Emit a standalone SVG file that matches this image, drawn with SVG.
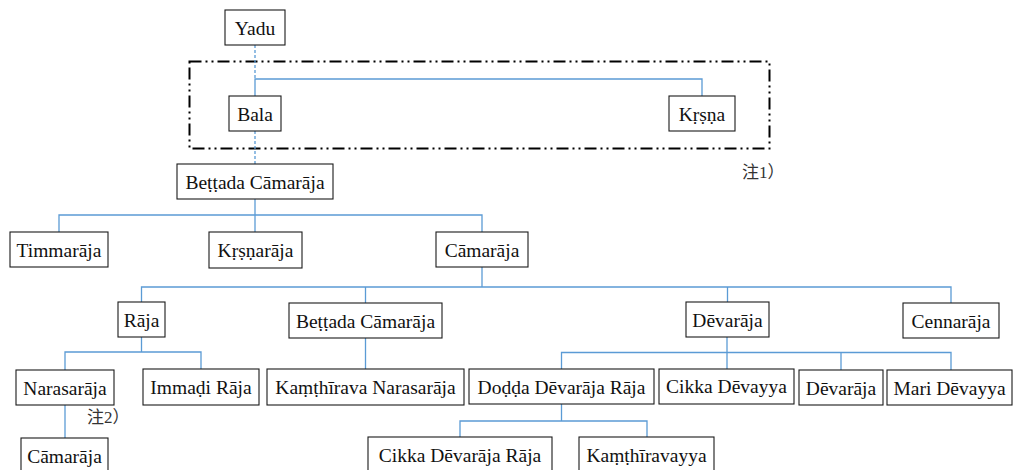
<svg xmlns="http://www.w3.org/2000/svg" width="1017" height="470" viewBox="0 0 1017 470">
<style>
.n rect{fill:#fff;stroke:#1a1a1a;stroke-width:1.1}
.n text{font-family:'Liberation Serif','Times New Roman',serif;font-size:19.5px;fill:#111;text-anchor:middle}
.c path{fill:none;stroke:#5B9BD5;stroke-width:1.3}
.c .d{stroke-dasharray:3 2}
.note{font-family:'Liberation Serif','Noto Sans CJK SC',serif;font-size:17px;fill:#333}
.frame{fill:none;stroke:#000;stroke-width:2;stroke-dasharray:12 4 2 4 2 4}
</style>
<rect width="1017" height="470" fill="#fff"/>
<rect id="group-box" class="frame" x="189.5" y="61.5" width="580" height="87"/>
<g class="c" id="connectors">
<path class="d" d="M255,45 V79"/>
<path d="M255,96 V79 H702 V96"/>
<path class="d" d="M255,131 V164"/>
<path d="M255,199 V232"/>
<path d="M59,232 V215 H482 V232"/>
<path d="M482,267 V287"/>
<path d="M141.5,302 V287 H951 V303"/>
<path d="M365.5,287 V303"/>
<path d="M727.5,287 V302"/>
<path d="M141.5,337 V352"/>
<path d="M65,370 V352 H201 V369"/>
<path d="M365.5,338 V369"/>
<path d="M727,337 V369"/>
<path d="M561.5,369 V352.5 H951 V370"/>
<path d="M841,352.5 V370"/>
<path d="M65,405 V438"/>
<path d="M561.5,404 V421"/>
<path d="M460,437 V421 H647 V437"/>
</g>
<g class="n" id="yadu"><rect x="225" y="10" width="60" height="35"/><text x="255" y="35">Yadu</text></g>
<g class="n" id="bala"><rect x="229" y="96" width="52" height="35"/><text x="255" y="121">Bala</text></g>
<g class="n" id="krsna"><rect x="669" y="96" width="66" height="35"/><text x="702" y="121">Kṛṣṇa</text></g>
<g class="n" id="bettada1"><rect x="177" y="164" width="156" height="35"/><text x="255" y="189">Beṭṭada Cāmarāja</text></g>
<g class="n" id="timmaraja"><rect x="10" y="232" width="98" height="35"/><text x="59" y="257">Timmarāja</text></g>
<g class="n" id="krsnaraja"><rect x="209" y="232" width="93" height="36"/><text x="255.5" y="257">Kṛṣṇarāja</text></g>
<g class="n" id="camaraja1"><rect x="436" y="232" width="92" height="35"/><text x="482" y="257">Cāmarāja</text></g>
<g class="n" id="raja"><rect x="118" y="302" width="47" height="35"/><text x="141.5" y="327">Rāja</text></g>
<g class="n" id="bettada2"><rect x="289" y="303" width="153" height="35"/><text x="365.5" y="328">Beṭṭada Cāmarāja</text></g>
<g class="n" id="devaraja1"><rect x="686" y="302" width="83" height="35"/><text x="727.5" y="327">Dēvarāja</text></g>
<g class="n" id="cennaraja"><rect x="903" y="303" width="96" height="35"/><text x="951" y="328">Cennarāja</text></g>
<g class="n" id="narasaraja"><rect x="16" y="370" width="98" height="35"/><text x="65" y="395">Narasarāja</text></g>
<g class="n" id="immadi"><rect x="143" y="369" width="116" height="36"/><text x="201" y="394">Immaḍi Rāja</text></g>
<g class="n" id="kanthirava"><rect x="267" y="369" width="197" height="36"/><text x="365.5" y="394">Kaṃṭhīrava Narasarāja</text></g>
<g class="n" id="dodda"><rect x="469" y="369" width="185" height="35"/><text x="561.5" y="394">Doḍḍa Dēvarāja Rāja</text></g>
<g class="n" id="cikkadevayya"><rect x="659" y="369" width="135" height="35"/><text x="726.5" y="393">Cikka Dēvayya</text></g>
<g class="n" id="devaraja2"><rect x="799" y="370" width="84" height="35"/><text x="841" y="395">Dēvarāja</text></g>
<g class="n" id="mari"><rect x="887" y="370" width="125" height="35"/><text x="949.5" y="395">Mari Dēvayya</text></g>
<g class="n" id="camaraja2"><rect x="21" y="438" width="87" height="35"/><text x="64.5" y="463">Cāmarāja</text></g>
<g class="n" id="cikkadevaraja"><rect x="368" y="437" width="184" height="35"/><text x="460" y="462">Cikka Dēvarāja Rāja</text></g>
<g class="n" id="kanthiravayya"><rect x="579" y="437" width="135" height="35"/><text x="646.5" y="462">Kaṃṭhīravayya</text></g>
<text class="note" x="742" y="178">注1）</text>
<text class="note" x="87" y="423">注2）</text>
</svg>
